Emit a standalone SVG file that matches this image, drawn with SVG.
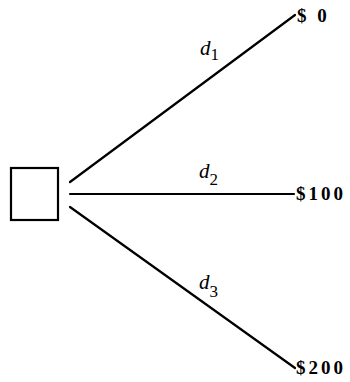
<svg xmlns="http://www.w3.org/2000/svg" width="350" height="382" viewBox="0 0 350 382">
<style>
.ln{stroke:#000;stroke-width:2.2;fill:none;stroke-linecap:round}
.pay{font-family:"Liberation Serif",serif;font-weight:bold;font-size:19px;letter-spacing:3px;fill:#000}
.lab{font-family:"Liberation Serif",serif;font-style:italic;font-size:21px;fill:#000}
.sub{font-family:"Liberation Serif",serif;font-style:normal;font-size:17px;fill:#000}
</style>
<rect width="350" height="382" fill="#fff"/>
<g id="decision">
<rect x="11" y="168" width="47" height="52" fill="#fff" stroke="#000" stroke-width="2.2"/>
</g>
<g id="connectors">
<line class="ln" x1="70" y1="182" x2="295" y2="15"/>
<line class="ln" x1="70" y1="194" x2="294" y2="194"/>
<line class="ln" x1="70" y1="207" x2="295" y2="368"/>
<text class="lab" x="200" y="55">d<tspan class="sub" dy="5">1</tspan></text>
<text class="lab" x="199" y="178">d<tspan class="sub" dy="7">2</tspan></text>
<text class="lab" x="199" y="289">d<tspan class="sub" dy="8">3</tspan></text>
</g>
<g id="out1"><text class="pay" x="297" y="22">$ 0</text></g>
<g id="out2"><text class="pay" x="296" y="200">$100</text></g>
<g id="out3"><text class="pay" x="296" y="374">$200</text></g>
</svg>
